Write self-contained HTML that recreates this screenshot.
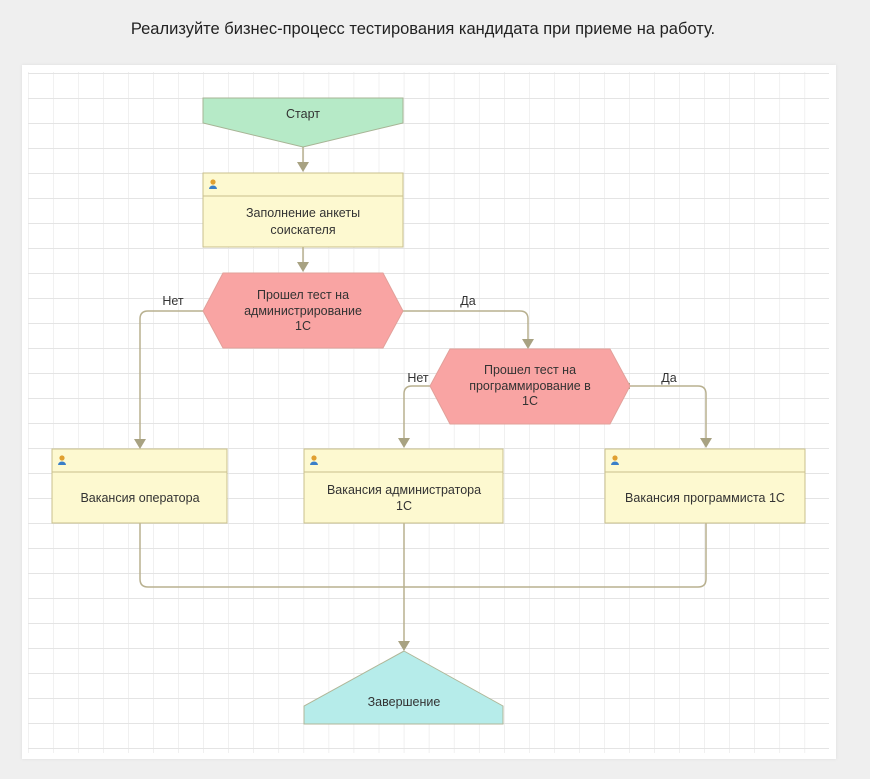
<!DOCTYPE html>
<html><head><meta charset="utf-8"><style>
body{margin:0;background:#efefef;width:870px;height:779px;overflow:hidden;font-family:"Liberation Sans",sans-serif}
.t{position:absolute;left:0;width:846px;top:20px;text-align:center;font-size:16.5px;color:#222}
.p{position:absolute;left:22px;top:65px;width:814px;height:694px;background:#fff;box-shadow:0 0 3px #ddd}
svg{position:absolute;left:0;top:0}
</style></head><body>
<div class="t">Реализуйте бизнес-процесс тестирования кандидата при приеме на работу.</div>
<div class="p"></div>
<svg width="870" height="779" font-family="Liberation Sans, sans-serif" font-size="12.5">
<defs>
<pattern id="g" x="3" y="73" width="25.05" height="25" patternUnits="userSpaceOnUse">
<path d="M0 0V25" stroke="#e2e2e2" stroke-width="1"/>
<path d="M0 0H25.05" stroke="#e4e4e4" stroke-width="2"/>
</pattern>
<g id="u"><circle cx="0" cy="-3" r="2.6" fill="#e0a030"/><path d="M-4 4a4 3.5 0 0 1 8 0z" fill="#3a7fc8"/></g>
</defs>
<rect x="28" y="72" width="801" height="681" fill="url(#g)"/>
<g fill="none" stroke="#b8b08f" stroke-width="1.5">
<path d="M303 147V166M303 247V266"/>
<path d="M203 311H148q-8 0-8 8V443"/>
<path d="M395 311H520q8 0 8 8V342"/>
<path d="M430 386H412q-8 0-8 8V442"/>
<path d="M630 386H698q8 0 8 8V442"/>
<path d="M140 523V579q0 8 8 8H698q8 0 8-8V523M404 523V644"/>
</g>
<g fill="#a8a282">
<path d="M297 162h12l-6 10z"/><path d="M297 262h12l-6 10z"/>
<path d="M134 439h12l-6 10z"/><path d="M522 339h12l-6 10z"/>
<path d="M398 438h12l-6 10z"/><path d="M700 438h12l-6 10z"/>
<path d="M398 641h12l-6 10z"/>
<rect x="392" y="308" width="6" height="6"/><rect x="624" y="383" width="6" height="6"/>
</g>
<path d="M203 98H403V123L303 147L203 123Z" fill="#b6eac7" stroke="#a7b495"/>
<text x="303" y="118" text-anchor="middle" fill="#333">Старт</text>
<g stroke="#c9c08d" fill="#fdf9d0">
<rect x="203" y="173" width="200" height="74"/><path d="M203 196H403"/>
<rect x="52" y="449" width="175" height="74"/><path d="M52 472H227"/>
<rect x="304" y="449" width="199" height="74"/><path d="M304 472H503"/>
<rect x="605" y="449" width="200" height="74"/><path d="M605 472H805"/>
</g>
<use href="#u" x="213" y="185"/><use href="#u" x="62" y="461"/><use href="#u" x="314" y="461"/><use href="#u" x="615" y="461"/>
<g fill="#333" text-anchor="middle">
<text x="303" y="217">Заполнение анкеты</text><text x="303" y="234">соискателя</text>
<text x="140" y="502">Вакансия оператора</text>
<text x="404" y="494">Вакансия администратора</text><text x="404" y="510">1С</text>
<text x="705" y="502">Вакансия программиста 1С</text>
</g>
<g fill="#f9a4a3" stroke="#e2a09a">
<path d="M223 273H383L403 311L383 348H223L203 311Z"/>
<path d="M450 349H610L630 386L610 424H450L430 386Z"/>
</g>
<g fill="#333" text-anchor="middle">
<text x="303" y="299">Прошел тест на</text><text x="303" y="315">администрирование</text><text x="303" y="330">1С</text>
<text x="530" y="374">Прошел тест на</text><text x="530" y="390">программирование в</text><text x="530" y="405">1С</text>
<text x="173" y="305">Нет</text><text x="468" y="305">Да</text>
<text x="418" y="382">Нет</text><text x="669" y="382">Да</text>
</g>
<path d="M404 651L503 706V724H304V706Z" fill="#b6ecea" stroke="#b0b698"/>
<text x="404" y="706" text-anchor="middle" fill="#333">Завершение</text>
</svg>
</body></html>
